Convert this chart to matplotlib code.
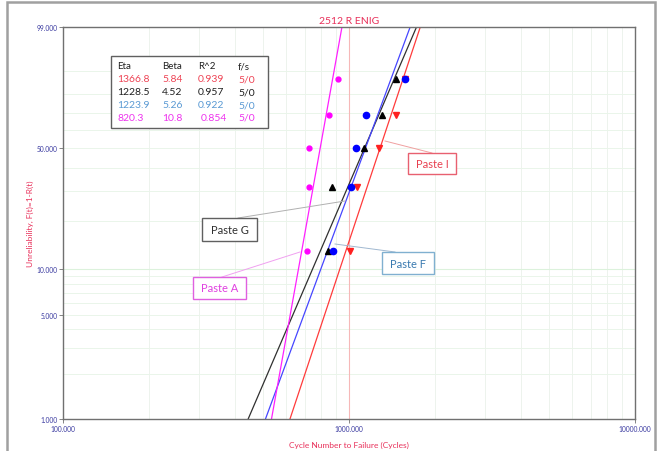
import numpy as np
import matplotlib
matplotlib.use("Agg")
from matplotlib import pyplot as plt
from matplotlib.patches import Rectangle

plt.rcParams['font.family'] = ['Lato', 'DejaVu Sans']

# median ranks (%) for 5 failures
ranks = [12.94, 31.38, 50.0, 68.62, 87.06]

# cycles to failure
pasteI = [1008, 1067, 1273, 1460, 1570]
pasteG = [845, 872, 1128, 1305, 1460]
pasteF = [879, 1016, 1058, 1147, 1570]
pasteA = [713, 725, 725, 851, 915]

# fit table
etas = [1366.8, 1228.5, 1223.9, 820.3]
betas = [5.84, 4.52, 5.26, 10.8]
r2s = ["0.939", "0.957", "0.922", "0.854"]
fs = ["5/0", "5/0", "5/0", "5/0"]

yticks = [1, 5, 10, 50, 99]
xticks = [100, 1000, 10000]


def fwd(p):
    p = np.clip(np.asarray(p, dtype=float), 1e-6, 99.99999)
    return np.log(-np.log(1 - p / 100.0))


def inv(y):
    return 100.0 * (1 - np.exp(-np.exp(y)))


fig = plt.figure(figsize=(6.57, 4.52), dpi=100)
ax = fig.add_axes([63 / 657, 1 - 420 / 452, 572 / 657, 392 / 452])
ax.set_xscale('log')
ax.set_yscale('function', functions=(fwd, inv))
ax.set_xlim(100, 10000)
ax.set_ylim(1, 99)

# grid
for dec in [100, 1000]:
    for k in range(2, 10):
        ax.axvline(dec * k, color='#edf3ed', lw=0.7, zorder=0)
for p in list(range(2, 10)) + list(range(20, 100, 10)):
    ax.axhline(p, color='#eaf5ea', lw=0.7, zorder=0)
ax.axhline(10, color='#dcf2dc', lw=0.8, zorder=0)
ax.axvline(1000, color='#f6b8b8', lw=0.8, zorder=0)

colors = ['#ff3b3b', '#303030', '#4646ff', '#ff20ff']
markcol = ['#ff2020', '#000000', '#0000ff', '#ff00ff']
series = [pasteI, pasteG, pasteF, pasteA]
markers = ['v', '^', 'o', 'o']
msizes = [4.3, 4.3, 4.5, 3.5]

# fit lines
pp = np.array([1.0, 99.0])
for eta, beta, c in zip(etas, betas, colors):
    xx = eta * (-np.log(1 - pp / 100.0)) ** (1 / beta)
    ax.plot(xx, pp, color=c, lw=0.9, zorder=2)

for data, m, c, s in zip(series, markers, markcol, msizes):
    ax.plot(data, ranks, ls='none', marker=m, color=c, ms=s, zorder=3)

for sp in ax.spines.values():
    sp.set_color('#707070')
    sp.set_linewidth(1.0)

ax.set_yticks(yticks)
ax.set_yticklabels(["%.3f" % v for v in yticks])
ax.set_xticks(xticks)
ax.set_xticklabels(["%.3f" % v for v in xticks])
ax.yaxis.set_minor_locator(matplotlib.ticker.NullLocator())
ax.xaxis.set_minor_locator(matplotlib.ticker.NullLocator())
ax.tick_params(axis='both', labelsize=4.8, labelcolor='#3a3aa0', color='#707070',
               length=3, width=0.6, pad=1)

ax.set_title("2512 R ENIG", color='#e8305a', fontsize=7.5, pad=3)
ax.set_xlabel("Cycle Number to Failure (Cycles)", color='#e8305a', fontsize=6, labelpad=7)
ax.set_ylabel("Unreliability, F(t)=1-R(t)", color='#e8305a', fontsize=6, labelpad=2)

# parameter table
tabcol = ['#ee4455', '#202020', '#5a9ad4', '#ee33ee']
fig.patches.append(Rectangle((111 / 657, 1 - 129 / 452), 157 / 657, 72 / 452,
                             transform=fig.transFigure, fill=True, fc='white',
                             ec='#606060', lw=1.0, zorder=5))
colx = [117, 162, 198, 238]
heads = ["Eta", "Beta", "R^2", "f/s"]
for hx, h in zip(colx, heads):
    fig.text(hx / 657, 1 - 67 / 452, h, fontsize=7, color='#202020', va='center', zorder=6)
for i in range(4):
    yy = 1 - (80 + i * 12.8) / 452
    vals = ["%.1f" % etas[i], "%g" % betas[i], r2s[i], fs[i]]
    for j, v in enumerate(vals):
        xoff = 3 if (i == 3 and j == 2) else 0
        fig.text((colx[j] + xoff) / 657, yy, v, fontsize=7.5, color=tabcol[i], va='center', zorder=6)


# callout labels
def callout(txt, box, p0, p1, tc, ec, lc):
    x0, y0, x1, y1 = box
    fig.lines.append(plt.Line2D([p0[0] / 657, p1[0] / 657], [1 - p0[1] / 452, 1 - p1[1] / 452],
                                transform=fig.transFigure, color=lc, lw=0.7, zorder=4))
    fig.patches.append(Rectangle((x0 / 657, 1 - y1 / 452), (x1 - x0) / 657, (y1 - y0) / 452,
                                 transform=fig.transFigure, fc='white', ec=ec, lw=1.0, zorder=5))
    fig.text((x0 + x1) / 2 / 657, 1 - (y0 + y1) / 2 / 452, txt, ha='center', va='center',
             fontsize=8, color=tc, zorder=6)


callout("Paste I", (408, 154, 456, 175), (385, 142), (432, 154), '#e84050', '#e86070', '#f0a0a0')
callout("Paste G", (202, 219, 257, 242), (238, 219), (345, 202), '#303030', '#606060', '#b0b0b0')
callout("Paste A", (193, 278, 246, 300), (222, 278), (300, 253), '#e040e0', '#e060e0', '#f0a0f0')
callout("Paste F", (382, 253, 434, 275), (335, 245), (395, 253), '#3a7ab0', '#80b0d0', '#a0b8d0')

# outer frame
fig.patches.append(Rectangle((7 / 657, -0.05), 648 / 657, 1.05 - 3 / 452,
                             transform=fig.transFigure, fill=False, ec='#a0a0a0', lw=1.8))

fig.savefig("out.png", dpi=100)
